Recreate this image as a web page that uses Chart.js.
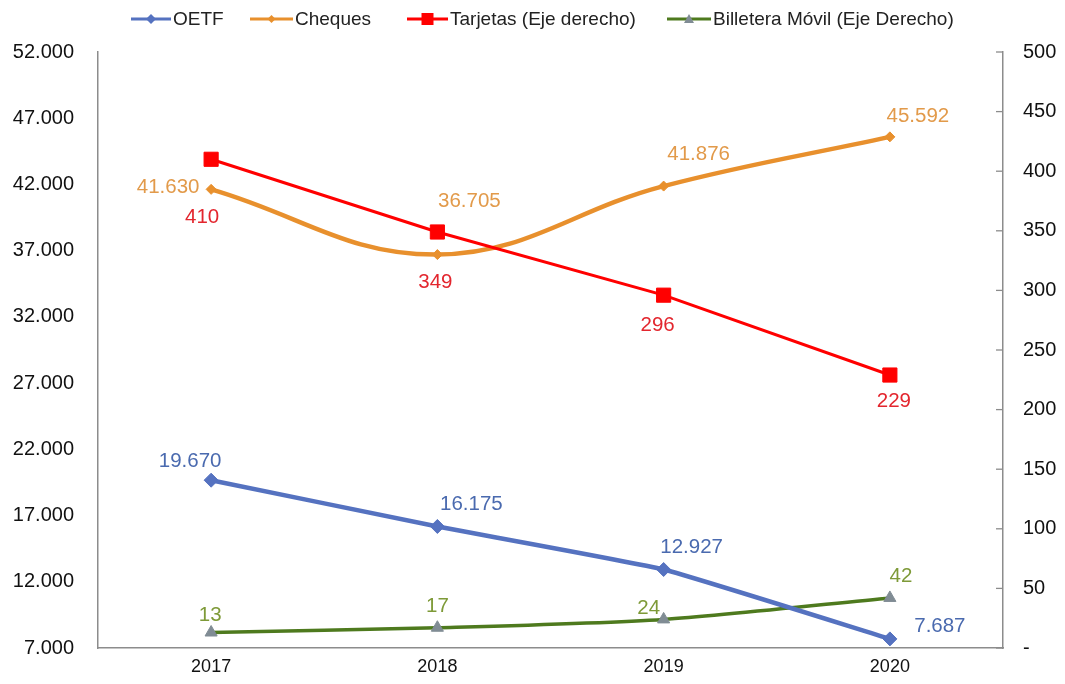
<!DOCTYPE html>
<html>
<head>
<meta charset="utf-8">
<script src="https://cdn.jsdelivr.net/npm/chart.js@4.4.1/dist/chart.umd.min.js"></script>
<style>
html,body{margin:0;padding:0;background:#fff;}
#wrap{width:1065px;height:684px;position:relative;}
</style>
</head>
<body>
<div id="wrap"><canvas id="c" width="1065" height="684"></canvas></div>
<script>
const categories = ['2017', '2018', '2019', '2020'];
const oetf = [19670, 16175, 12927, 7687];
const cheques = [41630, 36705, 41876, 45592];
const tarjetas = [410, 349, 296, 229];
const billetera = [13, 17, 24, 42];
const seriesNames = ['OETF', 'Cheques', 'Tarjetas (Eje derecho)', 'Billetera Móvil (Eje Derecho)'];
const leftTicks = [7000, 12000, 17000, 22000, 27000, 32000, 37000, 42000, 47000, 52000];
const rightTicks = [0, 50, 100, 150, 200, 250, 300, 350, 400, 450, 500];

const FONT = '"Liberation Sans", Arial, sans-serif';
const fmt = v => {
  const s = Math.round(v).toString();
  return s.replace(/\B(?=(\d{3})+(?!\d))/g, '.');
};

// label offsets relative to each point (style only)
const labelOffsets = [
  [[-21,-19],[34,-22],[28,-22],[50,-13]],
  [[-43,-2],[32,-53],[35,-32],[28,-21]],
  [[-9,58],[-2,50],[-6,30],[4,26]],
  [[-1,-17],[0,-21],[-15,-11],[11,-22]]
];
const labelColors = ['#4A6AAF', '#E29A4A', '#E3262E', '#7E9A38'];

const dataLabels = {
  id: 'dataLabels',
  afterDatasetsDraw(chart) {
    const ctx = chart.ctx;
    ctx.save();
    ctx.font = '20.5px ' + FONT;
    ctx.textAlign = 'center';
    ctx.textBaseline = 'middle';
    chart.data.datasets.forEach((ds, i) => {
      const meta = chart.getDatasetMeta(i);
      meta.data.forEach((pt, j) => {
        const v = ds.data[j];
        const off = labelOffsets[i][j];
        ctx.fillStyle = labelColors[i];
        ctx.fillText(fmt(v), pt.x + off[0], pt.y + off[1]);
      });
    });
    ctx.restore();
  }
};

const rightInnerTicks = {
  id: 'rightInnerTicks',
  afterDraw(chart) {
    const s = chart.scales.y2;
    const ctx = chart.ctx;
    ctx.save();
    ctx.strokeStyle = '#8C8C8C';
    ctx.lineWidth = 1.3;
    s.ticks.forEach(t => {
      const y = s.getPixelForValue(t.value);
      ctx.beginPath();
      ctx.moveTo(s.left - 7, y);
      ctx.lineTo(s.left, y);
      ctx.stroke();
    });
    ctx.restore();
  }
};

const customLegend = {
  id: 'customLegend',
  afterDraw(chart) {
    const ctx = chart.ctx;
    const items = [
      {x: 131, w: 40, color: '#5572C0', mcolor: '#5572C0', style: 'diamond', r: 5},
      {x: 250, w: 43, color: '#E8902D', mcolor: '#E8902D', style: 'diamond', r: 4},
      {x: 407, w: 41, color: '#FF0000', mcolor: '#FF0000', style: 'square', r: 6},
      {x: 667, w: 44, color: '#4E7A1E', mcolor: '#808C94', style: 'triangle', r: 5}
    ];
    const y = 19;
    ctx.save();
    items.forEach((it, i) => {
      ctx.strokeStyle = it.color;
      ctx.lineWidth = 3;
      ctx.beginPath();
      ctx.moveTo(it.x, y);
      ctx.lineTo(it.x + it.w, y);
      ctx.stroke();
      const cx = it.x + it.w / 2;
      ctx.fillStyle = it.mcolor;
      ctx.beginPath();
      if (it.style === 'diamond') {
        ctx.moveTo(cx, y - it.r); ctx.lineTo(cx + it.r, y); ctx.lineTo(cx, y + it.r); ctx.lineTo(cx - it.r, y);
      } else if (it.style === 'square') {
        ctx.rect(cx - it.r, y - it.r, it.r * 2, it.r * 2);
      } else {
        ctx.moveTo(cx, y - it.r); ctx.lineTo(cx + it.r, y + it.r * 0.8); ctx.lineTo(cx - it.r, y + it.r * 0.8);
      }
      ctx.closePath();
      ctx.fill();
      ctx.fillStyle = '#222';
      ctx.font = '19px ' + FONT;
      ctx.textAlign = 'left';
      ctx.textBaseline = 'middle';
      ctx.fillText(seriesNames[i], it.x + it.w + 2, y + 1);
    });
    ctx.restore();
  }
};

new Chart(document.getElementById('c'), {
  type: 'line',
  data: {
    labels: categories,
    datasets: [
      {label: seriesNames[0], data: oetf, yAxisID: 'y', borderColor: '#5572C0', backgroundColor: '#5572C0',
       pointBorderColor: '#5572C0', pointBorderWidth: 1,
       borderWidth: 4.5, pointStyle: 'rectRot', pointRadius: 7, tension: 0.12, order: 1},
      {label: seriesNames[1], data: cheques, yAxisID: 'y', borderColor: '#E8902D', backgroundColor: '#E8902D',
       pointBorderColor: '#E8902D', pointBorderWidth: 1,
       borderWidth: 4.5, pointStyle: 'rectRot', pointRadius: 5, tension: 0.4, order: 2},
      {label: seriesNames[2], data: tarjetas, yAxisID: 'y2', borderColor: '#FF0000', backgroundColor: '#FF0000',
       pointBorderColor: '#FF0000', pointBorderWidth: 1,
       borderWidth: 3, pointStyle: 'rect', pointRadius: 10, tension: 0, order: 0},
      {label: seriesNames[3], data: billetera, yAxisID: 'y2', borderColor: '#4E7A1E', backgroundColor: '#808C94',
       pointBorderColor: '#808C94', pointBorderWidth: 1,
       borderWidth: 3.5, pointStyle: 'triangle', pointRadius: 7, tension: 0.25, order: 3}
    ]
  },
  options: {
    responsive: false,
    animation: false,
    layout: {padding: {top: 52, left: 0, right: 0, bottom: 0}},
    plugins: {legend: {display: false}, tooltip: {enabled: false}},
    scales: {
      x: {
        type: 'category',
        offset: true,
        grid: {display: false, drawTicks: false},
        border: {display: true, color: '#8C8C8C', width: 1.5},
        ticks: {color: '#111', font: {family: FONT, size: 18}, padding: 8},
        afterFit(s) { s.height = 34; }
      },
      y: {
        position: 'left',
        min: 7000, max: 52000,
        afterBuildTicks(s) { s.ticks = leftTicks.map(v => ({value: v})); },
        grid: {display: false, drawTicks: false},
        border: {display: true, color: '#8C8C8C', width: 1.5},
        ticks: {color: '#111', font: {family: FONT, size: 20}, padding: 24, callback: v => fmt(v)},
        afterFit(s) { s.width = 98; }
      },
      y2: {
        position: 'right',
        min: 0, max: 500,
        afterBuildTicks(s) { s.ticks = rightTicks.map(v => ({value: v})); },
        grid: {display: false, drawTicks: false},
        border: {display: true, color: '#8C8C8C', width: 1.5},
        ticks: {color: '#111', font: {family: FONT, size: 20}, padding: 20, callback: v => v === 0 ? '-' : String(v)},
        afterFit(s) { s.width = 62; }
      }
    }
  },
  plugins: [dataLabels, rightInnerTicks, customLegend]
});
</script>
</body>
</html>
